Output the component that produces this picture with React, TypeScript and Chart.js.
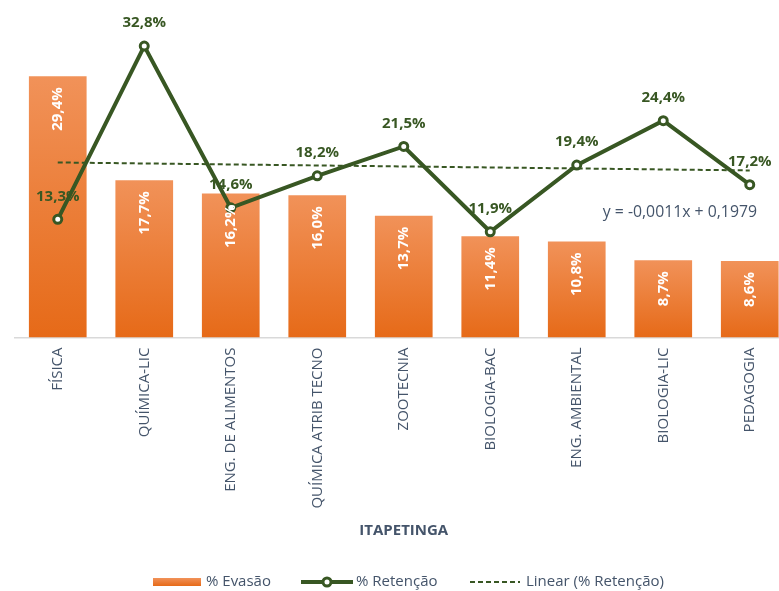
import React, { useEffect, useRef } from "react";
import { Chart, registerables } from "chart.js";

Chart.register(...registerables);

const categories = [
  "FÍSICA",
  "QUÍMICA-LIC",
  "ENG. DE ALIMENTOS",
  "QUÍMICA ATRIB TECNO",
  "ZOOTECNIA",
  "BIOLOGIA-BAC",
  "ENG. AMBIENTAL",
  "BIOLOGIA-LIC",
  "PEDAGOGIA",
];
const evasao = [29.4, 17.7, 16.2, 16.0, 13.7, 11.4, 10.8, 8.7, 8.6];
const retencao = [13.3, 32.8, 14.6, 18.2, 21.5, 11.9, 19.4, 24.4, 17.2];
// Trend line endpoints as shown in the picture (linear fit of % Retenção)
const trendRetencao = [19.7, null, null, null, null, null, null, null, 18.8];
const trendEquation = "y = -0,0011x + 0,1979";
const axisTitle = "ITAPETINGA";
const legendLabels = ["% Evasão", "% Retenção", "Linear (% Retenção)"];

const GREEN = "#385723";
const TEXT = "#44546A";
const FONT = "'Open Sans', 'Noto Sans', sans-serif";

const fmt = (v: number) => v.toFixed(1).replace(".", ",") + "%";

const barGradient = (c: CanvasRenderingContext2D, top: number, bottom: number) => {
  const g = c.createLinearGradient(0, top, 0, bottom);
  g.addColorStop(0, "#F19259");
  g.addColorStop(1, "#E66A18");
  return g;
};

const labelsPlugin = {
  id: "customLabels",
  afterDatasetsDraw(chart: any) {
    const c: CanvasRenderingContext2D = chart.ctx;
    c.save();
    // bar labels (rotated, white, inside end)
    const barMeta = chart.getDatasetMeta(0);
    c.font = `bold 15px ${FONT}`;
    c.fillStyle = "#FFFFFF";
    barMeta.data.forEach((el: any, i: number) => {
      c.save();
      c.translate(el.x, el.y + 11);
      c.rotate(-Math.PI / 2);
      c.textAlign = "right";
      c.textBaseline = "middle";
      c.fillText(fmt(evasao[i]), 0, 0);
      c.restore();
    });
    // line labels
    const lineMeta = chart.getDatasetMeta(1);
    c.fillStyle = GREEN;
    c.textAlign = "center";
    c.textBaseline = "middle";
    lineMeta.data.forEach((el: any, i: number) => {
      c.fillText(fmt(retencao[i]), el.x, el.y - 23);
    });
    // trend equation
    c.font = `15.8px ${FONT}`;
    c.fillStyle = TEXT;
    c.textAlign = "right";
    c.fillText(trendEquation, 757, 212);
    c.restore();
  },
  afterDraw(chart: any) {
    const c: CanvasRenderingContext2D = chart.ctx;
    c.save();
    const ly = 582;
    // bar legend
    c.fillStyle = barGradient(c, ly - 4, ly + 4);
    c.fillRect(153, ly - 4, 48, 8);
    c.font = `15px ${FONT}`;
    c.fillStyle = TEXT;
    c.textBaseline = "middle";
    c.textAlign = "left";
    c.fillText(legendLabels[0], 206, ly);
    // line legend
    c.strokeStyle = GREEN;
    c.lineWidth = 4;
    c.beginPath();
    c.moveTo(301, ly);
    c.lineTo(353, ly);
    c.stroke();
    c.beginPath();
    c.arc(327, ly, 4, 0, Math.PI * 2);
    c.fillStyle = "#FFFFFF";
    c.fill();
    c.lineWidth = 3;
    c.stroke();
    c.fillStyle = TEXT;
    c.fillText(legendLabels[1], 356, ly);
    // trend legend
    c.setLineDash([5, 3]);
    c.lineWidth = 2;
    c.beginPath();
    c.moveTo(470, ly);
    c.lineTo(520, ly);
    c.stroke();
    c.setLineDash([]);
    c.fillText(legendLabels[2], 526, ly);
    c.restore();
  },
};

export default function App() {
  const canvasRef = useRef<HTMLCanvasElement>(null);

  useEffect(() => {
    if (!canvasRef.current) return;
    const chart = new Chart(canvasRef.current, {
      type: "bar",
      data: {
        labels: categories,
        datasets: [
          {
            type: "bar",
            label: legendLabels[0],
            data: evasao,
            order: 2,
            backgroundColor: (ctx: any) => {
              const ch = ctx.chart;
              if (!ch.chartArea || ctx.type !== "data" || !ch.scales.y) return "#ED7D31";
              const y = ch.scales.y;
              return barGradient(ch.ctx, y.getPixelForValue(ctx.raw), y.getPixelForValue(0));
            },
            borderWidth: 0,
            categoryPercentage: 1,
            barPercentage: 0.667,
          },
          {
            type: "line",
            label: legendLabels[1],
            data: retencao,
            order: 0,
            borderColor: GREEN,
            borderWidth: 4,
            pointRadius: 4,
            pointBorderWidth: 3,
            pointBackgroundColor: "#FFFFFF",
            pointBorderColor: GREEN,
            tension: 0,
          },
          {
            type: "line",
            label: legendLabels[2],
            data: trendRetencao,
            order: 1,
            spanGaps: true,
            borderColor: GREEN,
            borderWidth: 2,
            borderDash: [5, 3],
            pointRadius: 0,
          },
        ] as any,
      },
      options: {
        responsive: false,
        animation: false,
        layout: { padding: { top: 26.5, bottom: 47, left: 14.5, right: 2.5 } },
        plugins: {
          legend: { display: false },
          tooltip: { enabled: false },
        },
        scales: {
          x: {
            offset: true,
            grid: { display: false, drawTicks: false },
            border: { display: true, color: "#D9D9D9", width: 1.5 },
            ticks: {
              autoSkip: false,
              minRotation: 90,
              maxRotation: 90,
              padding: 10,
              color: TEXT,
              font: { family: FONT, size: 15 },
            },
            title: {
              display: true,
              text: axisTitle,
              color: TEXT,
              font: { family: FONT, size: 15, weight: "bold" },
            },
            afterFit: (scale: any) => {
              scale.height = 206.5;
            },
          },
          y: {
            display: false,
            min: 0,
            max: 35,
          },
        },
      },
      plugins: [labelsPlugin],
    });
    return () => chart.destroy();
  }, []);

  return (
    <div
      style={{
        position: "absolute",
        left: 0,
        top: 0,
        width: 779,
        height: 591,
        overflow: "hidden",
        background: "#FFFFFF",
      }}
    >
      <canvas ref={canvasRef} width={800} height={591} style={{ width: 800, height: 591, display: "block" }} />
    </div>
  );
}
